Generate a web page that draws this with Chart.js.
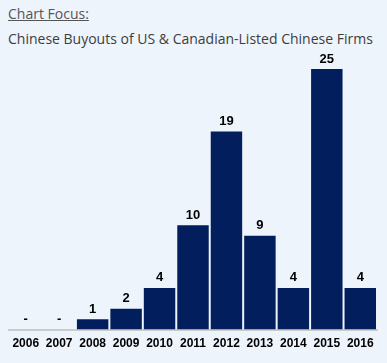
<!DOCTYPE html>
<html>
<head>
<meta charset="utf-8">
<script src="https://cdn.jsdelivr.net/npm/chart.js@4"></script>
<style>
  html, body { margin: 0; padding: 0; }
  body { width: 387px; height: 363px; background: #eef4fc; position: relative; overflow: hidden; font-family: "Open Sans", sans-serif; }
  #focus { position: absolute; left: 8px; top: 4px; font-size: 14px; color: #555; text-decoration: underline; }
  #subtitle { position: absolute; left: 8px; top: 29px; font-size: 14px; color: #3d3d3d; white-space: nowrap; }
  #wrap { position: absolute; left: 0; top: 0; width: 387px; height: 363px; }
</style>
</head>
<body>
<div id="focus">Chart Focus:</div>
<div id="subtitle">Chinese Buyouts of US &amp; Canadian-Listed Chinese Firms</div>
<div id="wrap"><canvas id="myChart"></canvas></div>
<script>
const years = ['2006', '2007', '2008', '2009', '2010', '2011', '2012', '2013', '2014', '2015', '2016'];
const buyouts = [0, 0, 1, 2, 4, 10, 19, 9, 4, 25, 4];

// numbers over the bars, "-" where there were none
const valueLabels = {
    id: 'valueLabels',
    afterDatasetsDraw(chart) {
        const c = chart.ctx;
        const meta = chart.getDatasetMeta(0);
        c.save();
        c.font = 'bold 13px "Liberation Sans", Arial, sans-serif';
        c.fillStyle = '#000';
        c.textAlign = 'center';
        c.textBaseline = 'middle';
        meta.data.forEach((bar, i) => {
            const v = buyouts[i];
            c.fillText(v === 0 ? '-' : String(v), bar.x, bar.y - 10);
        });
        c.restore();
    }
};

new Chart(document.getElementById('myChart'), {
    type: 'bar',
    data: {
        labels: years,
        datasets: [{
            data: buyouts,
            backgroundColor: '#021e5c',
            barPercentage: 0.94,
            categoryPercentage: 1.0
        }]
    },
    options: {
        responsive: true,
        maintainAspectRatio: false,
        animation: false,
        layout: { padding: { left: 9, right: 10, top: 69, bottom: 5 } },
        plugins: { legend: { display: false }, tooltip: { enabled: false } },
        scales: {
            x: {
                grid: { display: false, drawTicks: false },
                border: { color: '#cccccc', width: 2 },
                ticks: {
                    color: '#000',
                    padding: 7,
                    maxRotation: 0,
                    autoSkip: false,
                    font: { family: '"Liberation Sans", Arial, sans-serif', size: 12, weight: 'bold' }
                }
            },
            y: { display: false, min: 0, max: 25 }
        }
    },
    plugins: [valueLabels]
});
</script>
</body>
</html>
